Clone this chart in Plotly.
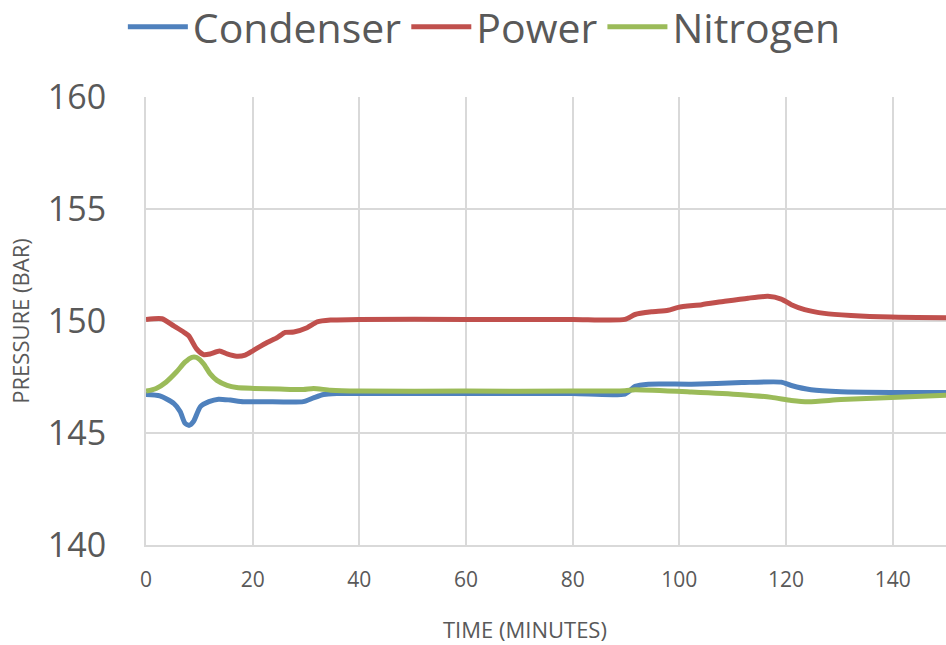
import plotly.graph_objects as go

# Data
t_condenser = [0, 2.6, 5.2, 6.4, 7.3, 8.1, 8.9, 10.2, 11.8, 13.6, 15.8, 18.3, 22.1, 29.5, 31.4, 33.3, 35.8,
               40, 60, 80, 89.8, 91.7, 94.2, 102.3, 111.7, 119.1, 121, 124.7, 130.3, 139.7, 150]
condenser = [146.72, 146.66, 146.32, 145.96, 145.44, 145.34, 145.51, 146.18, 146.4, 146.51, 146.47, 146.4,
             146.4, 146.4, 146.57, 146.72, 146.76, 146.76, 146.76, 146.76, 146.74, 147.08, 147.18, 147.18,
             147.25, 147.27, 147.12, 146.93, 146.84, 146.81, 146.81]

t_power = [0, 3, 5.2, 7.1, 8, 9.5, 10.8, 12, 13.8, 15.2, 17, 18.6, 20.1, 22.7, 24.6, 26.1, 27.7, 30.2, 32.1,
           34.6, 40, 60, 80, 89.8, 91.7, 94.8, 97.9, 99.8, 104.2, 108.5, 112.9, 116.6, 119.1, 121, 123.5,
           127.2, 132.2, 139.7, 150]
power = [150.07, 150.1, 149.78, 149.5, 149.34, 148.75, 148.5, 148.53, 148.66, 148.53, 148.43, 148.48, 148.68,
         149.04, 149.26, 149.49, 149.51, 149.7, 149.96, 150.04, 150.07, 150.07, 150.07, 150.07, 150.29, 150.41,
         150.48, 150.61, 150.73, 150.88, 151.02, 151.1, 150.98, 150.73, 150.51, 150.34, 150.25, 150.18, 150.15]

t_nitrogen = [0, 1.9, 3.8, 5.7, 7.3, 8.6, 9.5, 10.8, 12, 13.3, 15.2, 17, 20.1, 25.1, 29.5, 31.4, 34.6, 40,
              60, 80, 89.8, 91.7, 102.3, 111.7, 117.3, 121, 124.2, 130.3, 139.7, 150]
nitrogen = [146.87, 146.99, 147.28, 147.72, 148.16, 148.38, 148.37, 148.09, 147.65, 147.35, 147.13, 147.03,
            146.99, 146.96, 146.94, 146.99, 146.91, 146.87, 146.87, 146.87, 146.89, 146.93, 146.83, 146.71,
            146.59, 146.45, 146.39, 146.49, 146.59, 146.68]

x_ticks = [0, 20, 40, 60, 80, 100, 120, 140]
y_ticks = [140, 145, 150, 155, 160]

series = [
    ("Condenser", t_condenser, condenser, "#4f81bd"),
    ("Power", t_power, power, "#c0504d"),
    ("Nitrogen", t_nitrogen, nitrogen, "#9bbb59"),
]

fig = go.Figure()
for name, t, v, c in series:
    fig.add_trace(go.Scatter(x=t, y=v, name=name, mode="lines",
                             line=dict(color=c, width=5, shape="spline", smoothing=0.6)))

txt = "#595959"
fig.update_layout(
    width=946, height=645,
    margin=dict(l=146, r=0, t=97, b=100, autoexpand=False),
    paper_bgcolor="white", plot_bgcolor="white",
    showlegend=True,
    legend=dict(orientation="h", xref="container", yref="container", x=0.512, xanchor="center",
                y=0.958, yanchor="middle", font=dict(family="Open Sans", size=41, color=txt),
                itemwidth=60, tracegroupgap=0),
    xaxis=dict(range=[0, 150], tickmode="array", tickvals=x_ticks, showgrid=True, gridcolor="#d9d9d9",
               gridwidth=2, showline=True, linecolor="#d9d9d9", linewidth=2, zeroline=False,
               tickfont=dict(family="Open Sans", size=21, color=txt), ticks="", ticklabelstandoff=15),
    yaxis=dict(range=[140, 160], tickmode="array", tickvals=y_ticks, showgrid=True, gridcolor="#d9d9d9",
               gridwidth=2, showline=True, linecolor="#d9d9d9", linewidth=2, zeroline=False,
               tickfont=dict(family="Open Sans", size=34, color=txt), ticks="", ticklabelstandoff=31,
               title=dict(text="PRESSURE (BAR)", font=dict(family="Open Sans", size=22, color=txt), standoff=12)),
    annotations=[dict(text="TIME (MINUTES)", xref="paper", yref="paper", x=0.474, y=-0.188,
                      xanchor="center", yanchor="middle", showarrow=False,
                      font=dict(family="Open Sans", size=22, color=txt))],
)

fig.write_html("out.html")
